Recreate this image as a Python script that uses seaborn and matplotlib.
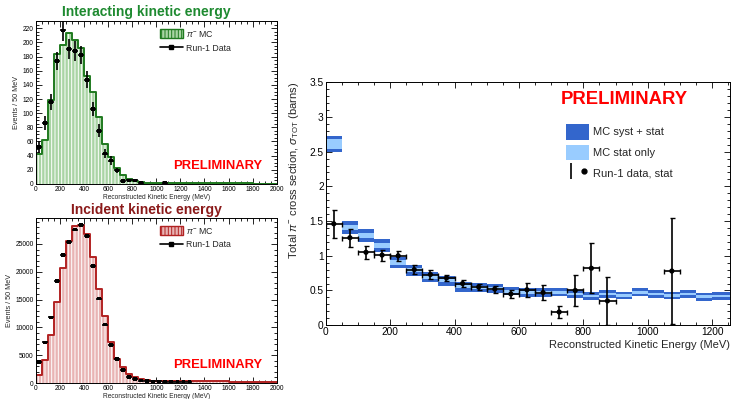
import numpy as np
import pandas as pd
import matplotlib
matplotlib.use('Agg')
import matplotlib.pyplot as plt
import seaborn as sns
from matplotlib.patches import Patch
from matplotlib.lines import Line2D
from matplotlib.legend_handler import HandlerTuple
from matplotlib.ticker import MultipleLocator, FuncFormatter

# 50 MeV bins, 0-2000 MeV (left panels)
edges = list(range(0, 2050, 50))
centres = [e + 25 for e in edges[:-1]]

# Interacting kinetic energy
mc_int = [42, 62, 118, 184, 197, 213, 203, 192, 152, 130, 94, 57, 38, 22, 13, 7, 4, 3, 2, 2,
          1.5, 1.5, 1.2, 1.2, 1.1, 1.1, 1, 1, 1, 1, 1, 1, 1, 1, 0.9, 0.8, 0.6, 0.5, 0.5, 0.5]
data_int_x = [25, 75, 125, 175, 225, 275, 325, 375, 425, 475, 525, 575, 625, 675, 725, 775, 825, 875, 1075]
data_int_y = [52, 86, 116, 174, 217, 191, 188, 182, 147, 106, 75, 43, 33, 19, 4, 5, 5, 1, 1]
data_int_err = [8, 10, 11, 13, 15, 14, 14, 13, 12, 10, 9, 7, 6, 4, 2, 2, 2, 1, 1]

# Incident kinetic energy
mc_inc = [1500, 4200, 8600, 14600, 20700, 25500, 28200, 28500, 26800, 22650, 16900, 12100, 7400, 4400,
          2800, 1700, 1100, 660, 480, 420, 400, 380, 370, 360, 350, 340, 330, 320, 310, 300,
          290, 280, 270, 260, 240, 220, 200, 180, 160, 150]
data_inc_x = list(range(25, 1300, 50))
data_inc_y = [3800, 7300, 11800, 18300, 23000, 25400, 27600, 28400, 26400, 21000, 15200, 10500, 6800,
              4300, 2300, 1100, 700, 450, 350, 300, 280, 260, 250, 240, 230, 220]

# Total cross section (right panel)
xs_centres = list(range(25, 1300, 50))
mc_xs = [2.61, 1.41, 1.29, 1.15, 0.90, 0.79, 0.69, 0.64, 0.555, 0.545, 0.53, 0.49, 0.47, 0.47,
         0.475, 0.45, 0.42, 0.45, 0.43, 0.475, 0.45, 0.43, 0.45, 0.41, 0.42, 0.42]
mc_syst = [0.11, 0.095, 0.09, 0.09, 0.08, 0.08, 0.075, 0.075, 0.07, 0.065, 0.065, 0.06, 0.06, 0.06,
           0.055, 0.055, 0.055, 0.055, 0.055, 0.055, 0.055, 0.055, 0.055, 0.055, 0.055, 0.055]
mc_stat = [0.075, 0.036, 0.036, 0.036, 0.036, 0.03, 0.03, 0.025, 0.025, 0.02, 0.02, 0.02, 0.02, 0.02,
           0.02, 0.02, 0.02, 0.02, 0.02, 0.02, 0.02, 0.02, 0.02, 0.02, 0.02, 0.02]
data_xs_x = [25, 75, 125, 175, 225, 275, 325, 375, 425, 475, 525, 575, 625, 675, 725, 775, 825, 875, 1075]
data_xs_y = [1.46, 1.26, 1.05, 1.01, 1.00, 0.80, 0.73, 0.68, 0.60, 0.55, 0.52, 0.45, 0.51, 0.47,
             0.19, 0.50, 0.82, 0.35, 0.78]
data_xs_err = [0.20, 0.13, 0.09, 0.08, 0.07, 0.06, 0.06, 0.05, 0.05, 0.05, 0.05, 0.06, 0.10, 0.11,
               0.09, 0.23, 0.36, 0.35, 0.76]

sns.set_style('ticks')
plt.rcParams['font.family'] = ['Liberation Sans', 'DejaVu Sans']
plt.rcParams['mathtext.fontset'] = 'custom'
plt.rcParams['mathtext.rm'] = 'Liberation Sans'
plt.rcParams['mathtext.it'] = 'Liberation Sans:italic'
plt.rcParams['hatch.linewidth'] = 0.7

fig = plt.figure(figsize=(7.32, 3.99), dpi=100)


def root_axis(ax, fs):
    ax.tick_params(which='both', direction='in', top=True, right=True, labelsize=fs, pad=1.5,
                   width=0.6, colors='black')
    ax.tick_params(which='major', length=4)
    ax.tick_params(which='minor', length=2)
    for s in ax.spines.values():
        s.set_linewidth(0.7)
        s.set_color('black')


def left_panel(rect, mc, dx, dy, derr, ymax, ymaj, ymin, line_col, fill_col, title, title_col, title_y):
    ax = fig.add_axes(rect)
    df = pd.DataFrame({'E': centres, 'w': mc})
    sns.histplot(data=df, x='E', weights='w', bins=edges, element='bars', fill=True,
                 facecolor=fill_col, edgecolor='white', linewidth=0, hatch='|||||', alpha=1, ax=ax)
    sns.histplot(data=df, x='E', weights='w', bins=edges, element='step', fill=False, color=line_col,
                 linewidth=1.4, ax=ax)
    ax.errorbar(dx, dy, xerr=25, yerr=derr, fmt='none', ecolor='black', elinewidth=1.2, zorder=5)
    sns.scatterplot(x=dx, y=dy, color='black', s=7, marker='s', edgecolor='none', ax=ax, zorder=6)
    ax.set_xlim(0, 2000)
    ax.set_ylim(0, ymax)
    ax.xaxis.set_major_locator(MultipleLocator(200))
    ax.xaxis.set_minor_locator(MultipleLocator(50))
    ax.yaxis.set_major_locator(MultipleLocator(ymaj))
    ax.yaxis.set_minor_locator(MultipleLocator(ymin))
    root_axis(ax, 4.8)
    ax.set_xlabel('Reconstructed Kinetic Energy (MeV)', fontsize=4.8, labelpad=0.5)
    ax.set_ylabel('Events / 50 MeV', fontsize=5.2, labelpad=2)
    handles = [Patch(facecolor=fill_col, edgecolor=line_col, hatch='|||||', linewidth=1.0),
               Line2D([], [], color='black', marker='s', ms=2.5, lw=1.2)]
    ax.legend(handles, [r'$\pi^{-}$ MC', 'Run-1 Data'], loc='upper left', bbox_to_anchor=(0.49, 0.99),
              frameon=False, fontsize=6.3, handlelength=2.6, handleheight=1.2, labelspacing=0.5,
              handletextpad=0.4, borderpad=0.2)
    ax.text(0.755, 0.11, 'PRELIMINARY', color='red', fontsize=9.4, fontweight='bold',
            ha='center', va='center', transform=ax.transAxes)
    fig.text(146 / 732, title_y, title, color=title_col, fontsize=10, fontweight='bold',
             ha='center', va='center')
    return ax


left_panel([0.049, 0.539, 0.329, 0.408], mc_int, data_int_x, data_int_y, data_int_err, 230, 20, 5,
           '#1f7a1f', '#a9d4a4', 'Interacting kinetic energy', '#1e8a30', 1 - 12 / 399)
left_panel([0.049, 0.040, 0.329, 0.414], mc_inc, data_inc_x, data_inc_y, None, 29700, 5000, 1000,
           '#b22222', '#e8b4b4', 'Incident kinetic energy', '#8b1a1a', 1 - 210 / 399)

# right panel: total cross section
ax = fig.add_axes([0.445, 0.185, 0.552, 0.609])
xs = np.array(mc_xs)
syst = np.array(mc_syst)
stat = np.array(mc_stat)
ax.bar(xs_centres, 2 * syst, bottom=xs - syst, width=50, color='#3366cc', linewidth=0)
ax.bar(xs_centres, 2 * stat, bottom=xs - stat, width=50, color='#99ccff', linewidth=0)
ax.errorbar(data_xs_x, data_xs_y, xerr=25, yerr=data_xs_err, fmt='none', ecolor='black',
            elinewidth=1.2, capsize=1.8, capthick=1.0, zorder=5)
sns.scatterplot(x=data_xs_x, y=data_xs_y, color='black', s=14, edgecolor='none', ax=ax, zorder=6)
ax.set_xlim(0, 1255)
ax.set_ylim(0, 3.5)
ax.xaxis.set_major_locator(MultipleLocator(200))
ax.xaxis.set_minor_locator(MultipleLocator(50))
ax.yaxis.set_major_locator(MultipleLocator(0.5))
ax.yaxis.set_minor_locator(MultipleLocator(0.1))
ax.yaxis.set_major_formatter(FuncFormatter(lambda v, p: f'{v:g}'))
root_axis(ax, 7.3)
ax.set_xlabel('Reconstructed Kinetic Energy (MeV)', fontsize=8, loc='right', labelpad=2)
ax.set_ylabel(r'Total $\pi^{-}$ cross section, $\sigma_{\rm TOT}$ (barns)', fontsize=8, loc='top',
              labelpad=6)
ax.text(0.74, 0.93, 'PRELIMINARY', color='red', fontsize=13.3, fontweight='bold',
        ha='center', va='center', transform=ax.transAxes)
handles = [Patch(facecolor='#3366cc', linewidth=0),
           Patch(facecolor='#99ccff', linewidth=0),
           (Line2D([], [], color='black', marker='|', ms=11, mew=1.2, ls='none'),
            Line2D([], [], color='black', marker='o', ms=3.5, ls='none'))]
ax.legend(handles, ['MC syst + stat', 'MC stat only', 'Run-1 data, stat'],
          handler_map={tuple: HandlerTuple(ndivide=None)},
          loc='upper left', bbox_to_anchor=(0.575, 0.86), frameon=False, fontsize=8,
          handlelength=2.1, handleheight=1.8, labelspacing=0.45, handletextpad=0.35, borderpad=0.2)

fig.savefig('out.png', dpi=100)
